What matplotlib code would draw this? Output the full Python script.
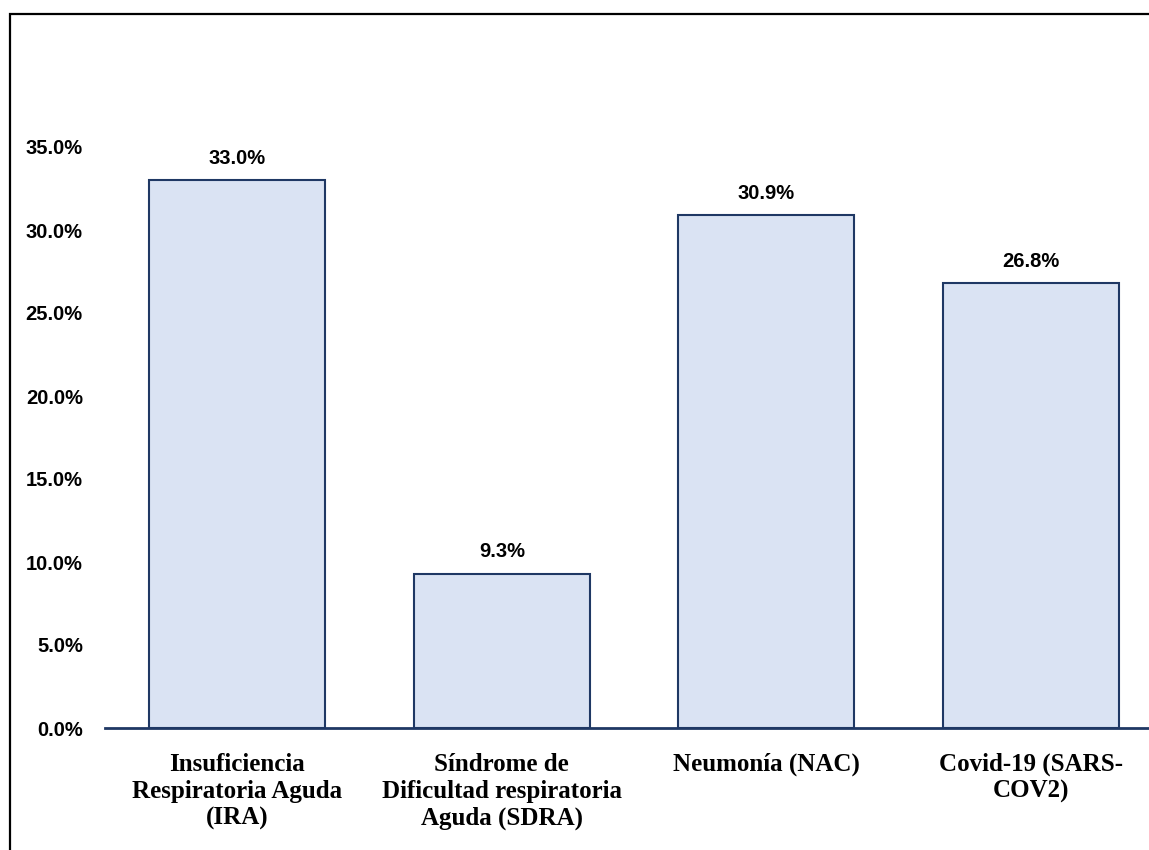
import matplotlib.pyplot as plt
from matplotlib.patches import Rectangle
from matplotlib.ticker import FuncFormatter

categories = ["Insuficiencia\nRespiratoria Aguda\n(IRA)",
              "Síndrome de\nDificultad respiratoria\nAguda (SDRA)",
              "Neumonía (NAC)",
              "Covid-19 (SARS-\nCOV2)"]
values = [0.330, 0.093, 0.309, 0.268]
yticks = [0.0, 0.05, 0.10, 0.15, 0.20, 0.25, 0.30, 0.35]

W, H = 1149, 850
fig = plt.figure(figsize=(W / 100, H / 100), dpi=100)

# outer chart border (only top/left edges fall inside the image)
fig.patches.append(Rectangle((10 / W, -0.1), 1.2, 1 - 14 / H + 0.1,
                             transform=fig.transFigure, fill=False,
                             edgecolor="black", linewidth=1.6))

# axes span: x from 105 px to 1163 px, y from 728 px (0%) to 64 px (40%)
ax = fig.add_axes([105 / W, (H - 728) / H, (1163 - 105) / W, (728 - 64) / H])
ax.set_xlim(-0.5, 3.5)
ax.set_ylim(0, 0.40)

x = range(len(values))
ax.bar(x, values, width=0.665, color="#DAE3F3", edgecolor="#1F3864", linewidth=1.5, zorder=2)

for i, v in enumerate(values):
    ax.annotate("{:.1%}".format(v), (i, v), xytext=(0, 9), textcoords="offset points",
                ha="center", va="bottom", fontsize=14.5, fontweight="bold",
                family="Liberation Sans")

for s in ["top", "right", "left"]:
    ax.spines[s].set_visible(False)
ax.spines["bottom"].set_color("#1F3864")
ax.spines["bottom"].set_linewidth(2)

ax.set_yticks(yticks)
ax.yaxis.set_major_formatter(FuncFormatter(lambda v, p: "{:.1%}".format(v)))
ax.tick_params(axis="y", length=0, pad=16)
for lbl in ax.get_yticklabels():
    lbl.set_fontfamily("Liberation Sans")
    lbl.set_fontweight("bold")
    lbl.set_fontsize(14.5)

ax.set_xticks(list(x))
ax.set_xticklabels(categories, fontsize=18, fontweight="bold", family="Liberation Serif",
                   linespacing=1.2, va="top")
ax.tick_params(axis="x", length=0, pad=18)

fig.savefig("out.png", dpi=100)
